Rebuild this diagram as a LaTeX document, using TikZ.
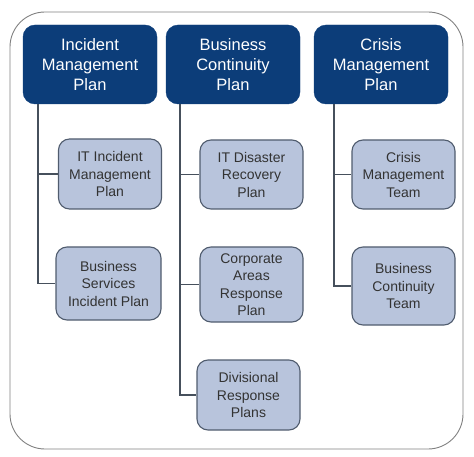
\documentclass[tikz,border=0pt]{standalone}
\usepackage{fontspec}
\setmainfont{Liberation Sans}
\definecolor{planblue}{RGB}{12,61,121}
\definecolor{subfill}{RGB}{184,196,220}
\definecolor{subedge}{RGB}{80,92,110}
\definecolor{linkgray}{RGB}{70,80,92}
\definecolor{framegray}{RGB}{128,128,128}
\tikzset{
  planbox/.style={draw=planblue, fill=planblue, text=white, rounded corners=12pt,
    minimum width=134pt, minimum height=79pt, align=center, inner sep=0pt,
    font=\fontsize{16.5}{20}\selectfont},
  subbox/.style={draw=subedge, line width=1.1pt, fill=subfill, text=black!80, rounded corners=11pt,
    minimum width=103pt, align=center, inner sep=0pt,
    font=\fontsize{14}{17.5}\selectfont},
  link/.style={draw=linkgray, line width=1.1pt}
}
\begin{document}
\begin{tikzpicture}[x=1pt, y=-1pt]
\useasboundingbox (0,0) rectangle (474,457);
% Outer frame
\draw[framegray, line width=0.9pt, rounded corners=35pt] (10,12) rectangle (463,449);

% Top level plans
\node[planbox] (imp) at (90,64.5) {Incident\\Management\\Plan};
\node[planbox] (bcp) at (233,64.5) {Business\\Continuity\\Plan};
\node[planbox] (cmp) at (381,64.5) {Crisis\\Management\\Plan};

% Sub plans
\node[subbox, minimum height=70pt] (itinc) at (110,174) {IT Incident\\Management\\Plan};
\node[subbox, minimum width=105pt, minimum height=73pt] (bsinc) at (108.5,283.5) {Business\\Services\\Incident Plan};
\node[subbox, minimum height=69pt] (itdr) at (251.5,174.5) {IT Disaster\\Recovery\\Plan};
\node[subbox, minimum height=75pt] (corp) at (251.5,284.5) {Corporate\\Areas\\Response\\Plan};
\node[subbox, minimum height=70pt] (divp) at (248.5,395) {Divisional\\Response\\Plans};
\node[subbox, minimum height=69pt] (cmt) at (403.5,174.5) {Crisis\\Management\\Team};
\node[subbox, minimum height=78pt] (bct) at (403.5,286) {Business\\Continuity\\Team};

% Trunk lines
\coordinate (impT) at (38,104);
\coordinate (bcpT) at (180,104);
\coordinate (cmpT) at (334,104);
\draw[link] (impT) |- (itinc.west);
\draw[link] (impT) |- (bsinc.west);
\draw[link] (bcpT) |- (itdr.west);
\draw[link] (bcpT) |- (corp.west);
\draw[link] (bcpT) |- (divp.west);
\draw[link] (cmpT) |- (cmt.west);
\draw[link] (cmpT) |- (bct.west);
\end{tikzpicture}
\end{document}
